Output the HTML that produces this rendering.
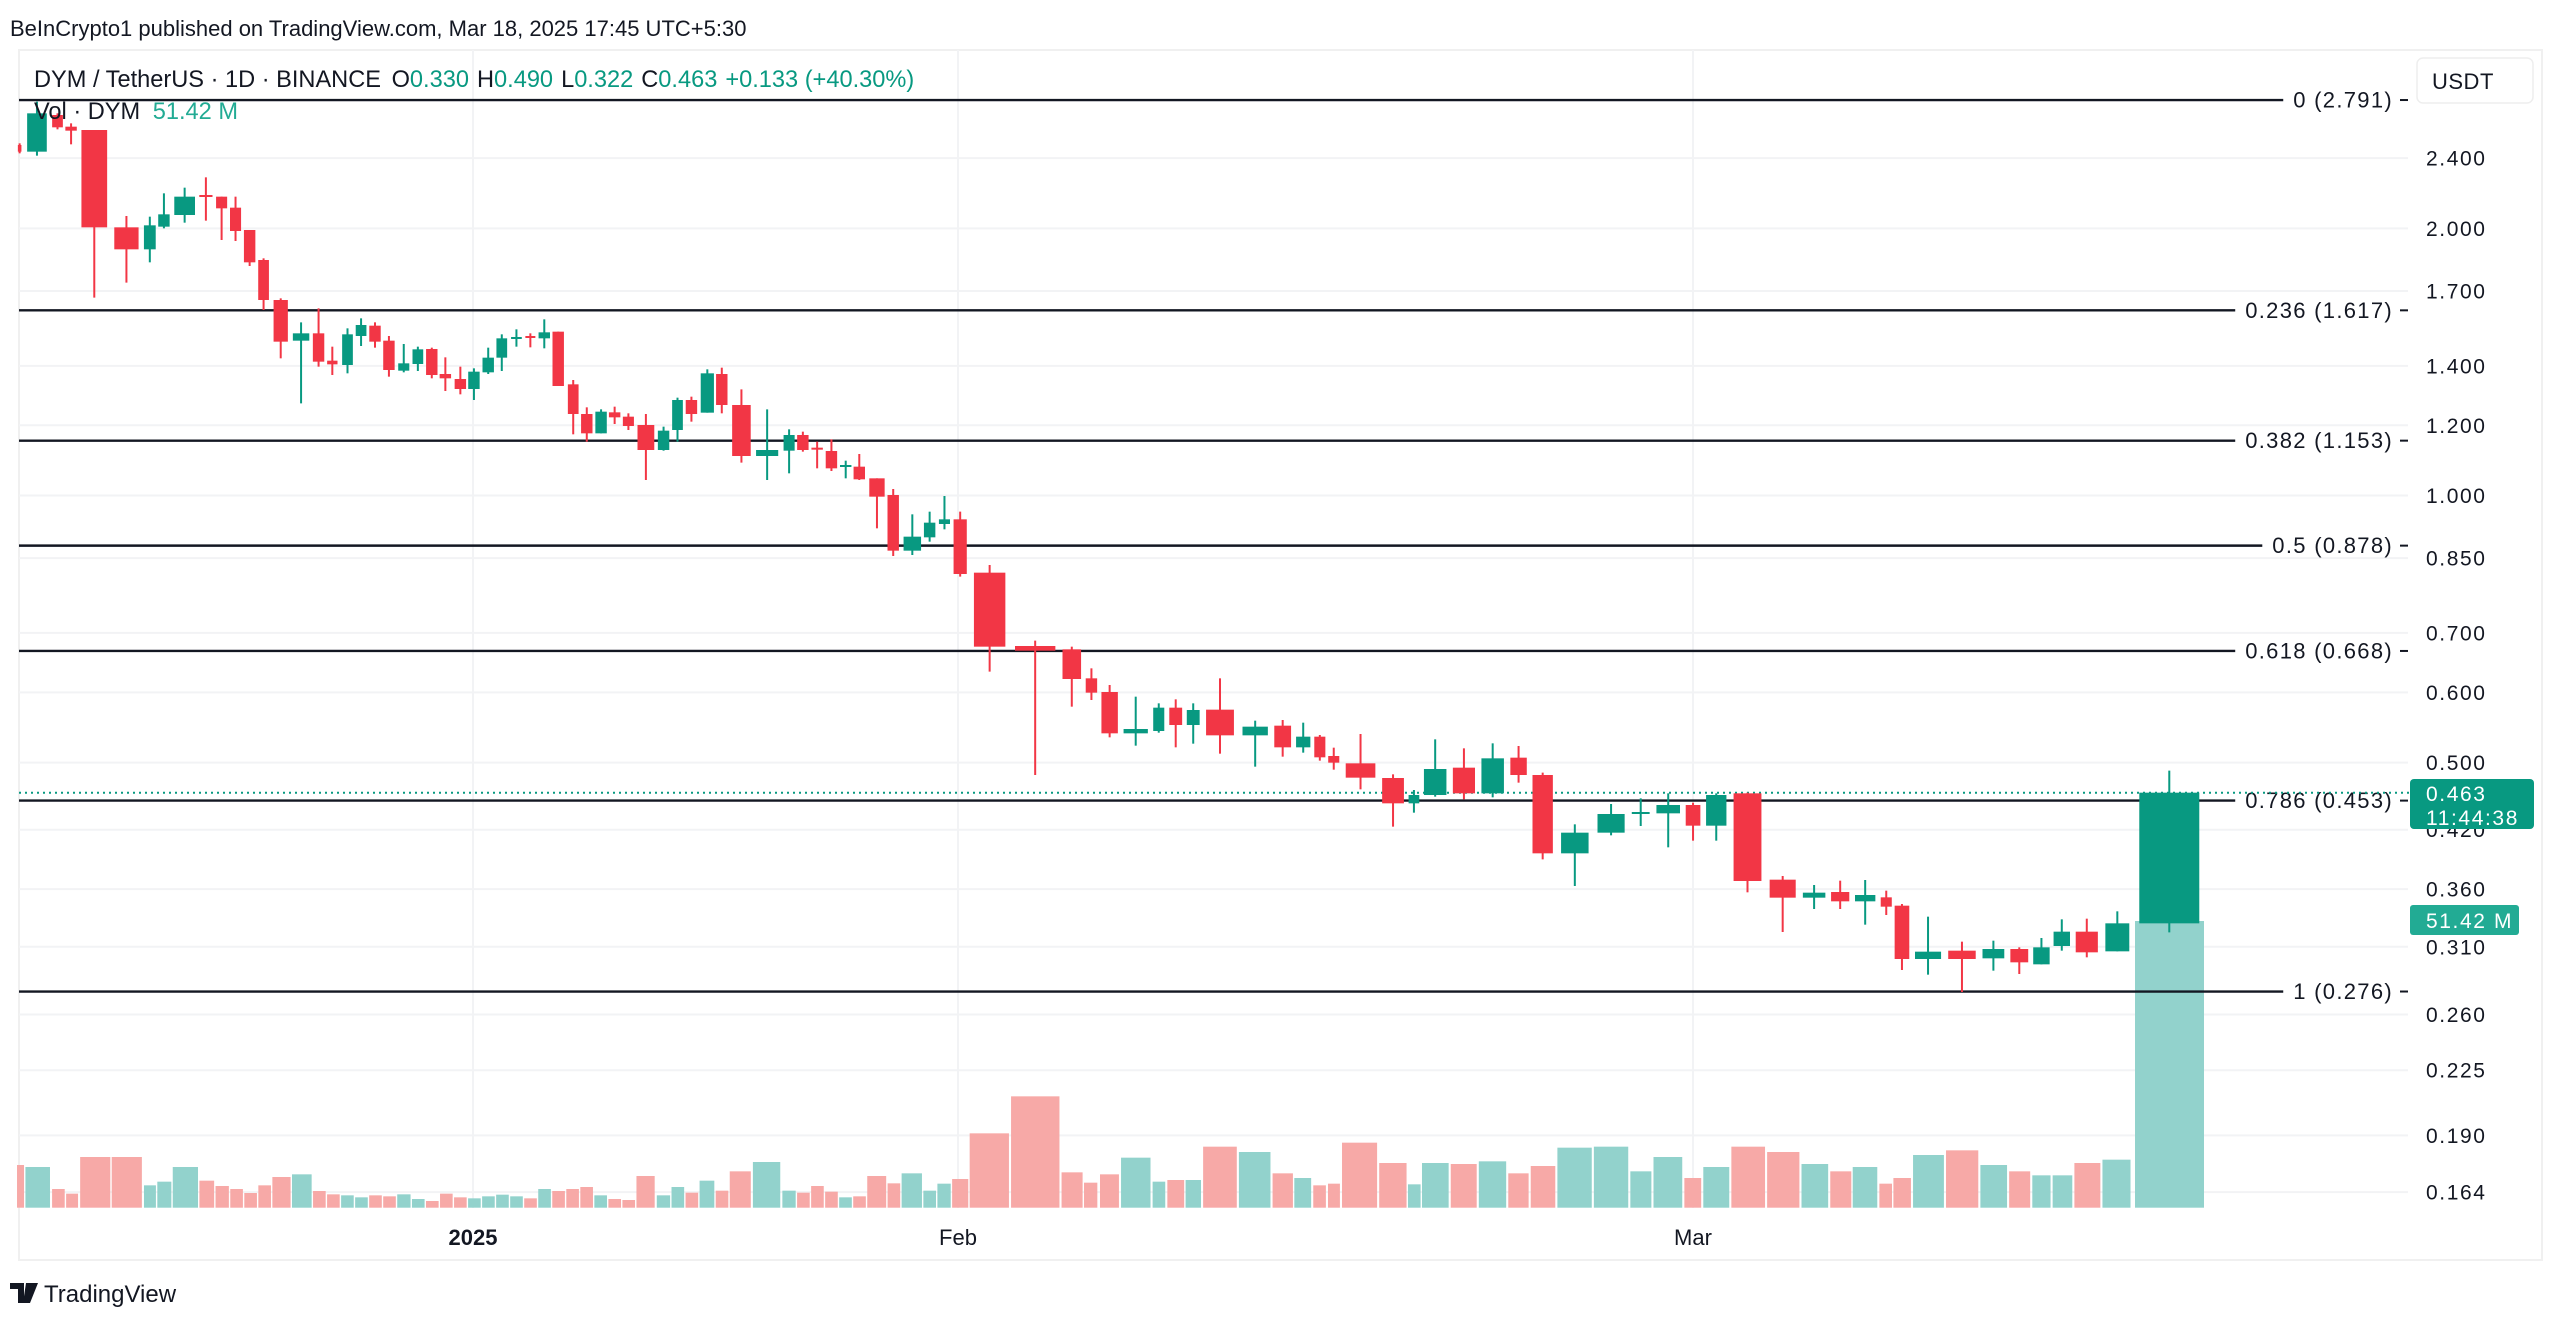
<!DOCTYPE html>
<html><head><meta charset="utf-8"><style>
html,body{margin:0;padding:0;background:#fff;width:2560px;height:1325px;overflow:hidden}
svg{display:block;font-family:"Liberation Sans","DejaVu Sans",sans-serif}
</style></head><body>
<svg id="s" width="2560" height="1325" viewBox="0 0 2560 1325" xmlns="http://www.w3.org/2000/svg">
<rect x="0" y="0" width="2560" height="1325" fill="#fff"/>
<rect x="19" y="50" width="2523" height="1210" fill="none" stroke="#f0f0f0" stroke-width="2"/>
<g id="grid"></g>
<g id="vol"></g>
<g id="fib"></g>
<line x1="19" y1="792.7" x2="2410" y2="792.7" stroke="#089981" stroke-width="2" stroke-dasharray="2 4"/>
<g id="candles"></g>
<g id="axis" font-size="21" fill="#131722" letter-spacing="1.6"></g>
<text x="10" y="36" font-size="22" fill="#131722">BeInCrypto1 published on TradingView.com, Mar 18, 2025 17:45 UTC+5:30</text>
<text x="34" y="87" font-size="23.6" fill="#131722">DYM / TetherUS · 1D · BINANCE <tspan dx="4">O</tspan><tspan fill="#089981">0.330</tspan><tspan dx="8">H</tspan><tspan fill="#089981">0.490</tspan><tspan dx="8">L</tspan><tspan fill="#089981">0.322</tspan><tspan dx="8">C</tspan><tspan fill="#089981">0.463</tspan><tspan dx="8" fill="#089981">+0.133 (+40.30%)</tspan></text>
<text x="34" y="119" font-size="23.6" fill="#131722">Vol · DYM <tspan dx="6" fill="#22ab94">51.42 M</tspan></text>
<rect x="2417" y="58" width="116" height="45" rx="6" fill="#fff" stroke="#eee" stroke-width="1.5"/>
<text x="2432" y="89" font-size="22" fill="#131722" letter-spacing="0.5">USDT</text>
<rect x="2410" y="779" width="124" height="50" rx="4" fill="#089981"/>
<text x="2426" y="801" font-size="21" fill="#fff" letter-spacing="1.6">0.463</text>
<text x="2426" y="825" font-size="21" fill="#fff" letter-spacing="1.6">11:44:38</text>
<rect x="2410" y="905" width="109" height="30" rx="3" fill="#22ab94"/>
<text x="2426" y="928" font-size="21" fill="#fff" letter-spacing="1.6">51.42 M</text>
<text x="473" y="1245" font-size="22" font-weight="bold" text-anchor="middle" fill="#131722">2025</text>
<text x="958" y="1245" font-size="22" text-anchor="middle" fill="#131722">Feb</text>
<text x="1693" y="1245" font-size="22" text-anchor="middle" fill="#131722">Mar</text>
<g transform="translate(10,1283)">
<path d="M0 0 H14 V20 H8 V6 H0 Z M16 0 H28 L20 20 H13 Z" fill="#131722"/>
</g>
<text x="44" y="1302" font-size="24" fill="#131722">TradingView</text>
</svg>
<script>
var NS="http://www.w3.org/2000/svg";
function el(t,a,p){var e=document.createElementNS(NS,t);for(var k in a)e.setAttribute(k,a[k]);document.getElementById(p).appendChild(e);return e;}
var G="#089981",R="#f23645",VG="#92d2cc",VR="#f7a9a7";
function Y(p){return 495.5-385.3*Math.log(p);}
var ticks=[2.4,2.0,1.7,1.4,1.2,1.0,0.85,0.7,0.6,0.5,0.42,0.36,0.31,0.26,0.225,0.19,0.164];
ticks.forEach(function(p){var y=Y(p);el("line",{x1:19,y1:y,x2:2408,y2:y,stroke:"#f2f3f5","stroke-width":2},"grid");
var t=el("text",{x:2426,y:y+7.5},"axis");t.textContent=p.toFixed(3);});
[473,958,1693].forEach(function(x){el("line",{x1:x,y1:50,x2:x,y2:1208,stroke:"#f2f3f5","stroke-width":2},"grid");});
var fibs=[["0 (2.791)",2.791],["0.236 (1.617)",1.617],["0.382 (1.153)",1.153],["0.5 (0.878)",0.878],["0.618 (0.668)",0.668],["0.786 (0.453)",0.453],["1 (0.276)",0.276]];
fibs.forEach(function(f){var y=Y(f[1]);var t=el("text",{x:2393,y:y+7.5,"font-size":22,"letter-spacing":1.3,"text-anchor":"end",fill:"#131722"},"fib");t.textContent=f[0];
var w=t.getComputedTextLength?t.getComputedTextLength():f[0].length*13;
el("line",{x1:19,y1:y,x2:2393-w-10,y2:y,stroke:"#131722","stroke-width":2.4},"fib");
el("line",{x1:2400,y1:y,x2:2408,y2:y,stroke:"#131722","stroke-width":2},"fib");});
function add(ox,oy,fx,fy,arr){arr.forEach(function(c){var x1=ox+c[0]/fx,x2=ox+c[1]/fx,bt=oy+c[2]/fy,bb=oy+c[3]/fy,wt=oy+c[4]/fy,wb=oy+c[5]/fy,col=c[6]=="g"?G:R;
var cx=(x1+x2)/2;el("line",{x1:cx,y1:wt,x2:cx,y2:wb,stroke:col,"stroke-width":2},"candles");
el("rect",{x:x1,y:bt,width:x2-x1,height:Math.max(bb-bt,2),fill:col},"candles");});}
add(10,90,2.8,3,[[22,32,165,185,160,190,'r'],[48,103,70,185,35,197,'g'],[118,148,75,112,70,118,'r'],[155,187,110,122,100,163,'r'],[200,272,120,412,120,623,'r'],[292,360,412,478,378,578,'r'],[375,408,406,478,380,517,'g'],[415,447,373,410,310,415,'g'],[460,518,320,375,293,398,'g'],[530,567,315,320,262,392,'r'],[577,608,320,355,320,450,'r'],[616,647,353,423,320,453,'r'],[655,687,420,517,420,528,'r'],[695,725,510,630,505,660,'r'],[738,778,630,755,625,805,'r'],[792,838,730,752,697,940,'g'],[848,880,730,815,655,830,'r'],[888,917,812,823,770,855,'r'],[930,960,733,825,715,850,'g'],[968,998,705,738,685,768,'g'],[1006,1038,707,755,697,773,'r'],[1045,1077,752,840,738,860,'r'],[1087,1118,820,842,762,847,'g'],[1127,1157,778,822,770,843,'g'],[1165,1197,777,855,773,865,'r'],[1203,1235,852,865,802,903,'r'],[1245,1277,867,897,830,913,'r'],[1283,1315,845,897,835,930,'g'],[1323,1355,803,847,773,852,'g'],[1362,1392,745,803,733,843,'g'],[1403,1433,741,745,718,770,'g'],[1443,1471,738,742,730,772,'r'],[1480,1512,727,745,688,775,'g']]);
add(540,300,2.8,3,[[35,67,95,258,95,258,'r'],[78,108,253,342,240,403,'r'],[115,147,342,400,322,425,'r'],[155,187,335,400,328,400,'g'],[193,225,337,352,320,372,'r'],[232,263,350,378,340,390,'r'],[273,320,375,450,342,540,'r'],[330,362,392,450,380,452,'g'],[370,400,300,390,293,425,'g'],[408,440,300,342,290,365,'r'],[450,487,220,338,208,338,'g'],[493,525,222,315,203,340,'r'],[538,590,315,468,268,488,'r'],[605,667,450,468,328,540,'g'],[682,713,405,452,388,520,'g'],[720,752,405,450,395,455,'r'],[760,792,443,448,425,505,'r'],[800,832,453,505,418,513,'r'],[840,872,495,500,482,535,'g'],[878,910,500,538,462,540,'r'],[922,965,535,590,535,685,'r'],[973,1005,585,752,567,768,'r'],[1018,1067,710,752,643,765,'g'],[1075,1107,668,712,635,725,'g'],[1117,1148,658,672,588,688,'g'],[1158,1195,658,822,635,830,'r'],[1215,1303,818,1040,795,1115,'r'],[1330,1443,1038,1052,1022,1425,'r'],[1463,1515,1048,1137,1040,1220,'r'],[1528,1560,1135,1178,1105,1200,'r']]);
add(1080,620,2.8,3,[[60,106,216,340,195,352,'r'],[122,190,327,340,230,377,'g'],[205,236,263,333,250,338,'g'],[250,286,263,315,238,382,'r'],[299,335,270,315,250,371,'g'],[353,431,269,346,175,401,'r'],[455,526,320,346,302,440,'g'],[544,591,317,382,300,410,'r'],[605,645,350,382,308,398,'g'],[656,687,350,412,345,422,'r'],[695,726,408,428,383,449,'r'],[744,827,430,473,342,508,'r'],[846,907,474,550,463,620,'r'],[920,950,525,550,510,578,'g'],[963,1026,447,525,358,530,'g'],[1044,1106,443,520,385,538,'r'],[1124,1187,415,520,370,532,'g'],[1205,1251,413,465,378,488,'r'],[1267,1324,465,700,458,718,'r'],[1347,1424,638,700,613,798,'g'],[1449,1525,582,638,552,646,'g']]);
function vol(ox,fx,arr){arr.forEach(function(v){var x1=ox+v[0]/fx,x2=ox+v[1]/fx,t=1080+v[2]/3;
el("rect",{x:x1,y:t,width:x2-x1,height:1207.7-t,fill:v[3]=="g"?VG:VR},"vol");});}
vol(10,1.4255,[[10,20,255,'r'],[22,57,261,'g'],[60,78,327,'r'],[80,97,341,'r'],[100,143,231,'r'],[145,188,231,'r'],[191,208,316,'g'],[210,230,305,'g'],[232,268,261,'g'],[270,291,302,'r'],[293,312,318,'r'],[314,332,327,'r'],[334,352,339,'r'],[354,372,316,'r'],[374,400,291,'r'],[402,430,283,'g'],[432,450,333,'r'],[452,470,343,'r'],[472,490,346,'g'],[492,510,352,'g'],[512,530,346,'r'],[532,550,349,'r'],[552,571,343,'g'],[573,591,357,'g'],[593,611,363,'r'],[613,631,341,'r'],[633,651,352,'r'],[653,671,355,'g'],[673,691,349,'g'],[693,711,344,'g'],[713,731,349,'g'],[733,751,355,'r'],[753,771,327,'g'],[773,791,333,'r'],[793,811,327,'r'],[813,831,321,'r'],[833,851,346,'g'],[853,871,357,'r'],[873,891,360,'r'],[893,919,288,'r'],[922,941,346,'g'],[943,961,321,'g'],[963,981,338,'r'],[983,1004,302,'g'],[1006,1024,332,'r'],[1026,1056,274,'r'],[1059,1098,246,'g'],[1101,1120,332,'g'],[1122,1140,338,'r'],[1142,1160,318,'r'],[1162,1180,335,'r'],[1182,1200,352,'g'],[1202,1220,349,'r'],[1222,1249,288,'r'],[1251,1269,310,'r'],[1271,1300,280,'g'],[1302,1320,332,'g'],[1322,1341,311,'g'],[1343,1366,297,'r'],[1368,1424,160,'r'],[1427,1496,49,'r'],[1499,1529,277,'r'],[1531,1550,308,'r']]);
vol(1100,1.4255,[[0,27,283,'r'],[30,72,233,'g'],[75,93,305,'g'],[96,120,300,'r'],[122,144,300,'g'],[147,195,200,'r'],[198,243,216,'g'],[246,275,280,'r'],[277,301,294,'g'],[304,322,316,'r'],[325,342,311,'r'],[345,395,188,'r'],[398,437,249,'r'],[439,457,313,'g'],[459,497,249,'g'],[500,537,252,'r'],[540,579,244,'g'],[582,611,280,'r'],[614,649,258,'r'],[652,701,203,'g'],[704,753,200,'g'],[756,786,274,'g'],[789,830,231,'g'],[833,857,294,'r'],[860,897,261,'g'],[900,948,200,'r'],[951,997,216,'r'],[1000,1038,252,'g'],[1041,1071,274,'r'],[1073,1108,261,'g'],[1111,1129,311,'r'],[1131,1156,294,'r'],[1159,1203,225,'g'],[1206,1252,211,'r'],[1255,1293,255,'g'],[1296,1326,274,'r'],[1329,1355,286,'g'],[1358,1386,286,'g'],[1389,1426,249,'r'],[1429,1469,239,'g']]);
el("rect",{x:2135,y:921,width:69,height:286.7,fill:VG},"vol");
add(1630,730,2.8,3,[[5,55,246,250,205,288,'g'],[74,140,225,250,190,352,'g'],[156,197,225,287,218,332,'r'],[213,270,195,287,190,332,'g'],[290,368,190,453,188,487,'r'],[391,464,449,503,438,606,'r'],[484,547,488,503,465,537,'g'],[563,614,486,514,452,537,'r'],[630,687,495,514,450,584,'g'],[702,733,502,530,482,555,'r'],[741,782,527,687,522,720,'r'],[798,871,665,687,560,734,'g'],[891,968,662,687,635,786,'r'],[987,1048,657,685,632,722,'g'],[1065,1115,657,697,652,732,'r'],[1129,1175,652,703,624,703,'g'],[1186,1232,605,648,568,662,'g'],[1248,1310,605,667,566,682,'r'],[1331,1398,580,664,544,664,'g'],[1426,1594,188,580,122,607,'g']]);
</script>
</body></html>
